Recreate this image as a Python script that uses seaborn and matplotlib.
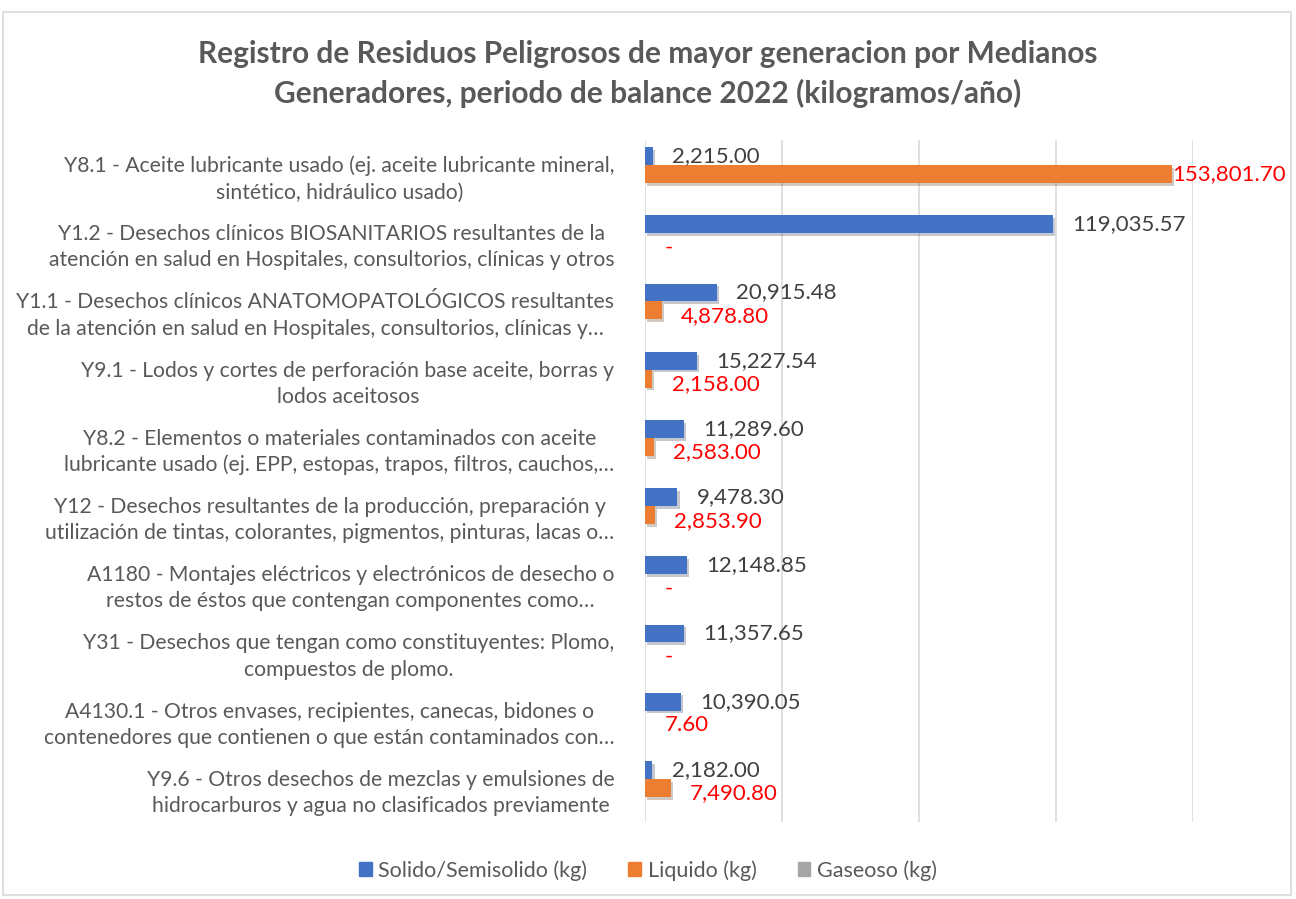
import pandas as pd
import numpy as np
from matplotlib import pyplot as plt
from matplotlib import patheffects as pe
from matplotlib.patches import Rectangle
import seaborn as sns

categorias = [
    "Y8.1 - Aceite lubricante usado (ej. aceite lubricante mineral,\nsintético, hidráulico usado)",
    "Y1.2 - Desechos clínicos BIOSANITARIOS resultantes de la\natención en salud en Hospitales, consultorios, clínicas y otros",
    "Y1.1 - Desechos clínicos ANATOMOPATOLÓGICOS resultantes\nde la atención en salud en Hospitales, consultorios, clínicas y…",
    "Y9.1 - Lodos y cortes de perforación base aceite, borras y\nlodos aceitosos",
    "Y8.2 - Elementos o materiales contaminados con aceite\nlubricante usado (ej. EPP, estopas, trapos, filtros, cauchos,…",
    "Y12 - Desechos resultantes de la producción, preparación y\nutilización de tintas, colorantes, pigmentos, pinturas, lacas o…",
    "A1180 - Montajes eléctricos y electrónicos de desecho o\nrestos de éstos que contengan componentes como…",
    "Y31 - Desechos que tengan como constituyentes: Plomo,\ncompuestos de plomo.",
    "A4130.1 - Otros envases, recipientes, canecas, bidones o\ncontenedores que contienen o que están contaminados con…",
    "Y9.6 - Otros desechos de mezclas y emulsiones de\nhidrocarburos y agua no clasificados previamente",
]
solido = [2215.00, 119035.57, 20915.48, 15227.54, 11289.60, 9478.30, 12148.85, 11357.65, 10390.05, 2182.00]
liquido = [153801.70, 0, 4878.80, 2158.00, 2583.00, 2853.90, 0, 0, 7.60, 7490.80]
gaseoso = [0, 0, 0, 0, 0, 0, 0, 0, 0, 0]
series = ["Solido/Semisolido (kg)", "Liquido (kg)", "Gaseoso (kg)"]
colores = ["#4472C4", "#ED7D31", "#A5A5A5"]

titulo = ("Registro de Residuos Peligrosos de mayor generacion por Medianos\n"
          "Generadores, periodo de balance 2022 (kilogramos/año)")

df = pd.DataFrame({
    "categoria": categorias * 3,
    "serie": [series[0]] * 10 + [series[1]] * 10 + [series[2]] * 10,
    "valor": solido + liquido + gaseoso,
})

sns.set_style("white")
plt.rcParams['font.family'] = ['Lato', 'DejaVu Sans']

fig = plt.figure(figsize=(12.96, 8.99), dpi=100)
ax = fig.add_axes([0.4977, 0.0857, 0.4228, 0.7586])

sns.barplot(data=df, y="categoria", x="valor", hue="serie", orient="h",
            palette=colores, saturation=1, width=0.79, linewidth=0, ax=ax, legend=True)

# sombra suave de las barras
for c in ax.containers:
    for b in c:
        if b.get_width() > 0:
            b.set_path_effects([pe.SimplePatchShadow(offset=(1.5, -2), alpha=0.25),
                                pe.Normal()])

ax.set_xlim(0, 160000)
ax.set_xticks(np.arange(0, 160001, 40000))
ax.xaxis.grid(True, color="#d9d9d9", linewidth=1.2)
ax.set_axisbelow(True)
ax.tick_params(axis="x", labelbottom=False, length=0)
ax.tick_params(axis="y", length=0, pad=22, labelsize=15.2, labelcolor="#595959")
for t in ax.get_yticklabels():
    t.set_multialignment("center")
    t.set_linespacing(1.38)
ax.set_xlabel("")
ax.set_ylabel("")
for s in ax.spines.values():
    s.set_visible(False)

# etiquetas de datos
fmt = lambda v: "-" if v == 0 else f"{v:,.2f}"
ax.bar_label(ax.containers[0], labels=[fmt(v) for v in solido], padding=14,
             color="#404040", fontsize=16)
anns = ax.bar_label(ax.containers[1], labels=[fmt(v) for v in liquido], padding=14,
                    color="#FF0000", fontsize=16)
for a in anns:
    a.xyann = (14, -4)
anns[int(np.argmax(liquido))].xyann = (0, 0)

ax.get_legend().remove()
handles = [Rectangle((0, 0), 1, 1, color=c) for c in colores]
fig.legend(handles, series, loc="center", bbox_to_anchor=(0.5, 0.032), ncol=3,
           frameon=False, handlelength=0.6, handleheight=0.6, handletextpad=0.3,
           columnspacing=1.9, fontsize=15.5, labelcolor="#595959")

fig.suptitle(titulo, x=0.5, y=0.956, fontsize=21.5, fontweight="bold",
             color="#595959", linespacing=1.45)

fig.patches.append(Rectangle((0.002, 0.004), 0.994, 0.983, transform=fig.transFigure,
                             fill=False, edgecolor="#d9d9d9", linewidth=1.2))

plt.savefig("out.png", dpi=100)
